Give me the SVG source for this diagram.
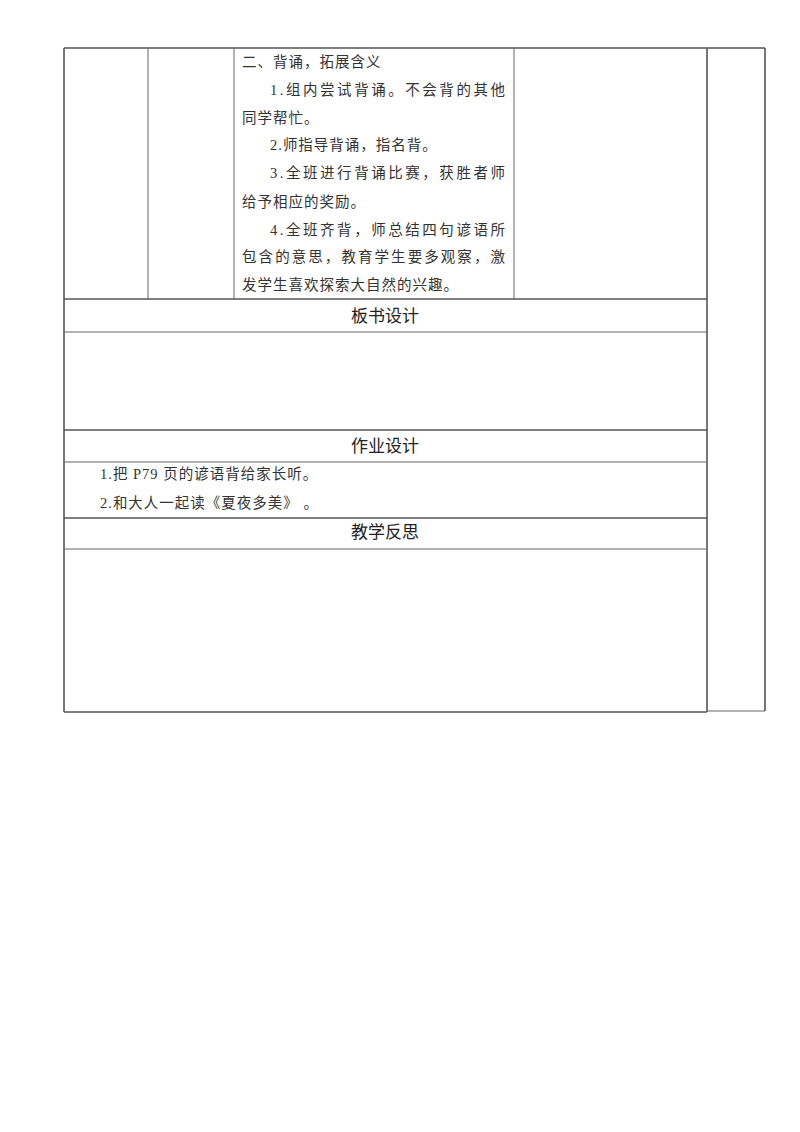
<svg xmlns="http://www.w3.org/2000/svg" width="800" height="1132" viewBox="0 0 800 1132">
<style>
.b{stroke:#555;stroke-width:1.6;fill:none}
.t{stroke:#666;stroke-width:1;fill:none}
.s{font-family:"Liberation Serif","Noto Sans CJK SC",serif;font-size:14.5px;letter-spacing:1px;fill:#333}
.h{font-family:"Noto Sans CJK SC",sans-serif;font-size:17px;fill:#222;text-anchor:middle}
</style>
<rect width="800" height="1132" fill="#fff"/>
<g id="connectors">
<line class="b" x1="64" y1="48" x2="765" y2="48"/>
<line class="b" x1="64" y1="48" x2="64" y2="712"/>
<line class="b" x1="707" y1="48" x2="707" y2="712"/>
<line class="b" x1="765" y1="48" x2="765" y2="711"/>
<line class="t" x1="148" y1="48" x2="148" y2="299"/>
<line class="t" x1="234" y1="48" x2="234" y2="299"/>
<line class="t" x1="514" y1="48" x2="514" y2="299"/>
<line class="b" x1="64" y1="299" x2="707" y2="299"/>
<line class="t" x1="64" y1="332" x2="707" y2="332"/>
<line class="b" x1="64" y1="430" x2="707" y2="430"/>
<line class="t" x1="64" y1="462" x2="707" y2="462"/>
<line class="b" x1="64" y1="518" x2="707" y2="518"/>
<line class="t" x1="64" y1="549" x2="707" y2="549"/>
<line class="b" x1="64" y1="712" x2="707" y2="712"/>
<line class="t" x1="707" y1="711" x2="765" y2="711"/>
</g>
<g id="content">
<text class="s" x="242" y="67">二、背诵，拓展含义</text>
<text class="s" x="270" y="95" textLength="236" lengthAdjust="spacing">1.组内尝试背诵。不会背的其他</text>
<text class="s" x="242" y="123">同学帮忙。</text>
<text class="s" x="270" y="150">2.师指导背诵，指名背。</text>
<text class="s" x="270" y="178" textLength="236" lengthAdjust="spacing">3.全班进行背诵比赛，获胜者师</text>
<text class="s" x="242" y="207">给予相应的奖励。</text>
<text class="s" x="270" y="235" textLength="236" lengthAdjust="spacing">4.全班齐背，师总结四句谚语所</text>
<text class="s" x="242" y="262" textLength="264" lengthAdjust="spacing">包含的意思，教育学生要多观察，激</text>
<text class="s" x="242" y="290">发学生喜欢探索大自然的兴趣。</text>
</g>
<g id="board"><text class="h" x="385" y="322">板书设计</text></g>
<g id="homework">
<text class="h" x="385" y="452">作业设计</text>
<text class="s" x="100" y="479">1.把 P79 页的谚语背给家长听。</text>
<text class="s" x="100" y="508">2.和大人一起读《夏夜多美》 。</text>
</g>
<g id="reflection"><text class="h" x="385" y="538">教学反思</text></g>
</svg>
